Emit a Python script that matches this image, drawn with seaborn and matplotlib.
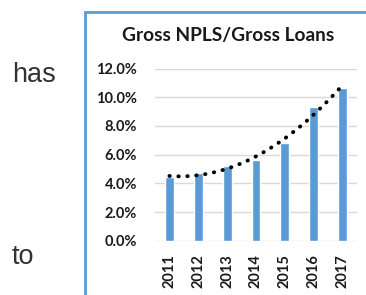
import numpy as np
import pandas as pd
import matplotlib
matplotlib.use("Agg")
import matplotlib.pyplot as plt
from matplotlib.patches import Rectangle
from matplotlib.ticker import FuncFormatter
import seaborn as sns

years = ["2011", "2012", "2013", "2014", "2015", "2016", "2017"]
npl_ratio = [4.42, 4.70, 5.20, 5.62, 6.83, 9.30, 10.66]
yticks = [0, 2, 4, 6, 8, 10, 12]
title = "Gross NPLS/Gross Loans"
side_words = ["has", "to"]

sns.set_theme(style="white")
plt.rcParams['font.family'] = ['Lato', 'DejaVu Sans']

W, H = 366, 295
fig = plt.figure(figsize=(W / 100, H / 100), dpi=100)
fig.patch.set_facecolor("white")

ax = fig.add_axes([155 / W, 1 - 240.7 / H, (357 - 155) / W, (240.7 - 68.5) / H])
df = pd.DataFrame({"year": years, "ratio": npl_ratio})
sns.barplot(data=df, x="year", y="ratio", color="#5B9BD5", saturation=1,
            width=0.31, ax=ax, zorder=3)

# polynomial trendline
xs = np.arange(len(years))
coef = np.polyfit(xs, npl_ratio, 2)
xf = np.linspace(0, len(years) - 1, 200)
ax.plot(xf, np.polyval(coef, xf), color="black", lw=2.8,
        linestyle=(0, (0.1, 2.2)), dash_capstyle="round", zorder=4)

ax.set_xlim(-0.5, len(years) - 0.5)
ax.set_ylim(0, 12)
ax.set_yticks(yticks)
ax.yaxis.set_major_formatter(FuncFormatter(lambda v, p: f"{v:.1f}%"))
ax.grid(axis="y", color="#d9d9d9", lw=1, zorder=0)
ax.set_axisbelow(True)
for s in ax.spines.values():
    s.set_visible(False)
ax.set_xlabel("")
ax.set_ylabel("")
ax.tick_params(axis="y", length=0, pad=13, labelsize=10.5, labelcolor="#1a1a1a")
ax.tick_params(axis="x", length=0, pad=10, labelsize=10.5, labelcolor="#1a1a1a",
               labelrotation=90)
for lab in ax.get_yticklabels() + ax.get_xticklabels():
    lab.set_fontweight("bold")

fig.text(228 / W, 1 - 36 / H, title, ha="center", va="center",
         fontsize=13.8, fontweight="bold", color="#1a1a1a")

# frame of the chart box
fig.patches.append(Rectangle((85 / W, -0.1), 1.2, 1 - 12 / H + 0.1,
                             transform=fig.transFigure, fill=False,
                             edgecolor="#5B9BD5", lw=2))

fig.text(12 / W, 1 - 82 / H, side_words[0], ha="left", va="baseline",
         fontsize=19.5, color="#333333", family=["Liberation Sans"])
fig.text(12 / W, 1 - 264 / H, side_words[1], ha="left", va="baseline",
         fontsize=19.5, color="#333333", family=["Liberation Sans"])

fig.savefig("out.png", dpi=100)
